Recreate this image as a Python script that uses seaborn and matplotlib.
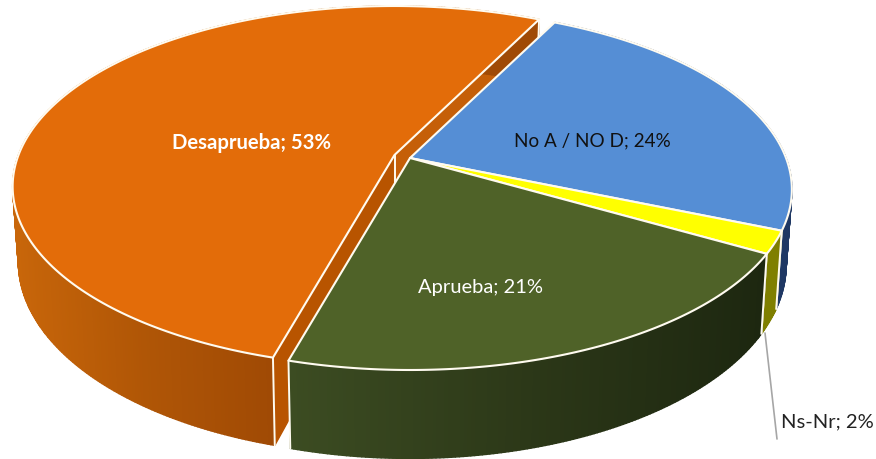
import numpy as np
import matplotlib
matplotlib.use('Agg')
import matplotlib.pyplot as plt
import seaborn as sns
from matplotlib.patches import Polygon

labels = ['No A / NO D', 'Ns-Nr', 'Aprueba', 'Desaprueba']
values = [24, 2, 21, 53]

top_colors = ['#558ED5', '#FFFF00', '#4F6228', '#E36C09']
side_colors = [
    ['#1F3864', '#1F3864'],
    ['#7F7F00', '#7F7F00'],
    ['#3C4C22', '#2C3818', '#1D2710'],
    ['#C8660A', '#B05606', '#A04A05'],
]
edge = '#FFFBF0'

# pie geometry, in pixels
cx, cy = 410, 158
R, S, k = 376, 175, 0.1745
depth = 73
shrink = 0.985
start = 26.4
explode = {3: (-15.5, -3)}

sns.set_theme(style='white')
plt.rcParams['font.family'] = ['Lato', 'DejaVu Sans']

fig = plt.figure(figsize=(8.76, 4.59), dpi=100)
ax = fig.add_axes([0, 0, 1, 1])
ax.set_xlim(0, 876)
ax.set_ylim(459, 0)
ax.axis('off')


def top_point(a, off=(0, 0), r=1.0):
    u = r * np.sin(np.radians(a))
    v = -r * np.cos(np.radians(a))
    w = 1 - k * v
    return cx + off[0] + R * u / w, cy + off[1] + S * v / w


def bottom_point(a, off=(0, 0), r=1.0):
    x, y = top_point(a, off, r)
    v = -r * np.cos(np.radians(a))
    return cx + off[0] + (x - cx - off[0]) * shrink, y + depth / (1 - k * v)


def quad(points, color, z):
    ax.add_patch(Polygon(points, closed=True, fc=color, ec=color, lw=1.0, zorder=z))


def line(p, q, z, lw=1.4):
    ax.plot([p[0], q[0]], [p[1], q[1]], color=edge, lw=lw, zorder=z, solid_capstyle='round')


edges = start + np.cumsum([0] + values) * 3.6

# exploded slices go first, the others cover them
order = [3, 0, 1, 2]
for n, i in enumerate(order):
    a0, a1 = edges[i], edges[i + 1]
    off = explode.get(i, (0, 0))
    z = 1 + n * 5
    angles = np.linspace(a0, a1, int((a1 - a0) * 2) + 2)

    if i in explode:
        tip_t, tip_b = top_point(0, off, 0), bottom_point(0, off, 0)
        quad([tip_t, top_point(a0, off), bottom_point(a0, off), tip_b], '#B85400', z)
        quad([tip_t, top_point(a1, off), bottom_point(a1, off), tip_b], '#C55F08', z)

    # outer wall, shaded from left to right, only the front part can be seen
    pal = sns.blend_palette(side_colors[i], 200)
    xs = [top_point(a, off)[0] for a in angles]
    lo = min(xs)
    hi = xs[0] if i in explode else max(xs)
    for a, b in zip(angles[:-1], angles[1:]):
        f = (top_point(a, off)[0] - lo) / max(hi - lo, 1)
        quad([top_point(a, off), top_point(b, off), bottom_point(b, off), bottom_point(a, off)],
             pal[min(int(f * 199), 199)], z + 1)

    line(top_point(a0, off), bottom_point(a0, off), z + 2)
    line(top_point(a1, off), bottom_point(a1, off), z + 2)

    if i in explode:
        line(top_point(0, off, 0), (top_point(0, off, 0)[0], bottom_point(0, off, 0)[1]), z + 0.5)

# tops of the slices
for n, i in enumerate(order):
    a0, a1 = edges[i], edges[i + 1]
    off = explode.get(i, (0, 0))
    z = 1 + n * 5 + 3 if i in explode else 30
    angles = np.linspace(a0, a1, 200)
    pts = [top_point(0, off, 0)] + [top_point(a, off) for a in angles]
    ax.add_patch(Polygon(pts, closed=True, fc=top_colors[i], ec=edge, lw=1.5,
                         joinstyle='round', zorder=z))

ax.text(252, 143, 'Desaprueba; 53%', color='white', fontsize=14.6, fontweight='bold',
        ha='center', va='center', zorder=40)
ax.text(592, 141, 'No A / NO D; 24%', color='#111111', fontsize=13.6,
        ha='center', va='center', zorder=40)
ax.text(480, 287, 'Aprueba; 21%', color='white', fontsize=14.5,
        ha='center', va='center', zorder=40)
ax.text(827, 422, 'Ns-Nr; 2%', color='#222222', fontsize=14.5,
        ha='center', va='center', zorder=40)
ax.plot([765, 777], [333, 439], color='#A6A6A6', lw=1.2, zorder=35)

fig.savefig('out.png', dpi=100)
